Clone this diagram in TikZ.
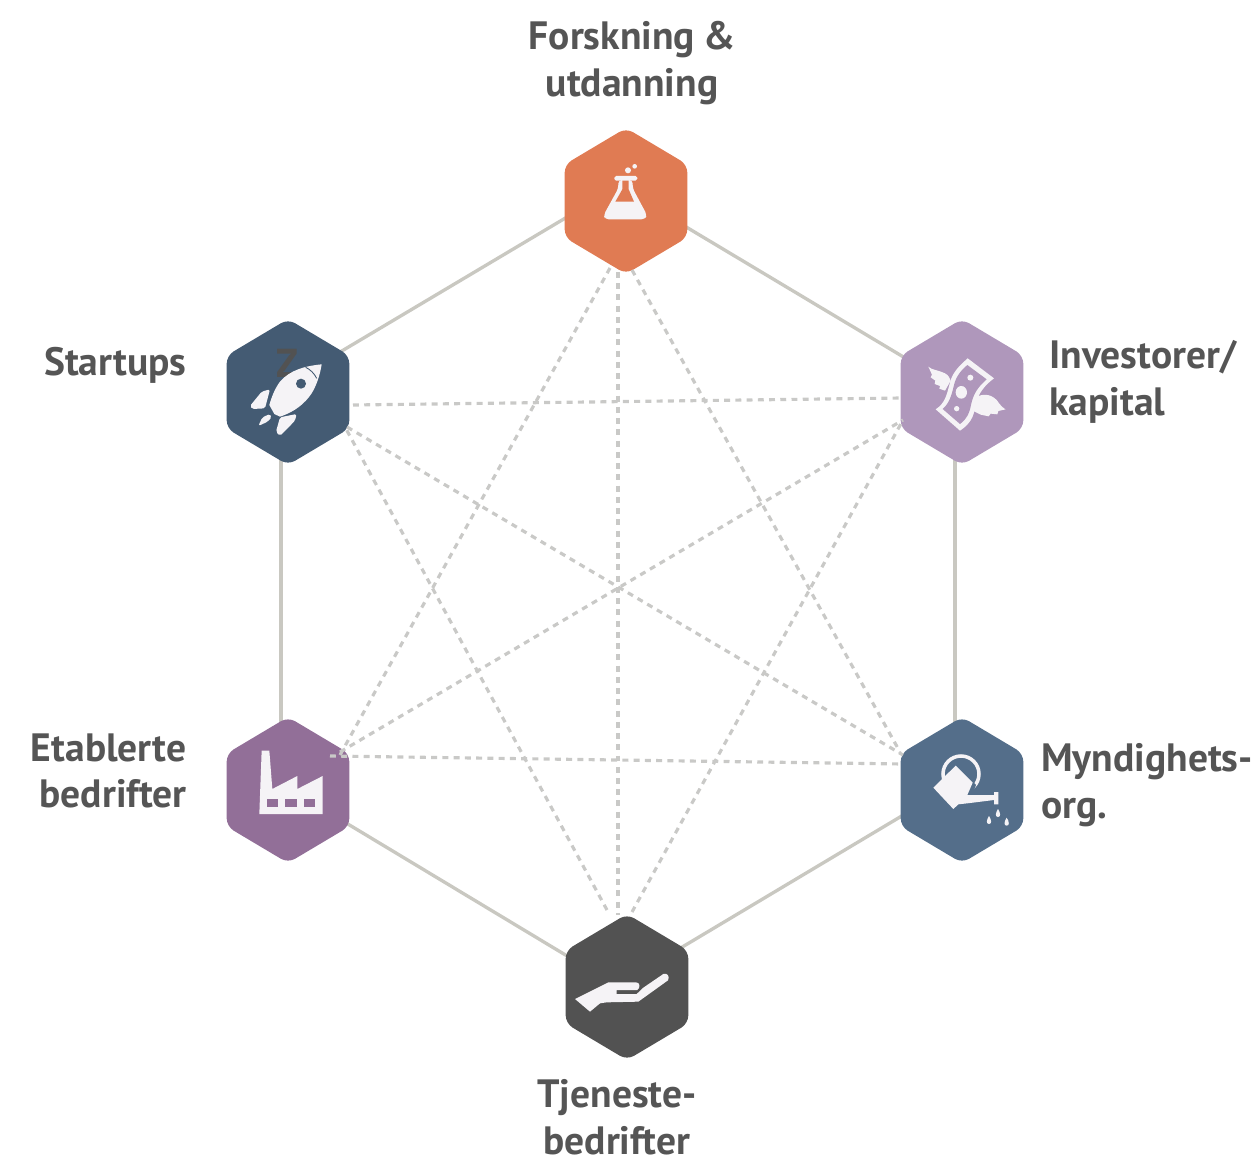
\documentclass[tikz,border=0pt]{standalone}
\usepackage{fontspec}
\setmainfont{PT Sans}
\usetikzlibrary{shapes.geometric,backgrounds}
\definecolor{orangehex}{HTML}{E07B53}
\definecolor{navyhex}{HTML}{445B73}
\definecolor{lilachex}{HTML}{AF97BB}
\definecolor{purplehex}{HTML}{926F98}
\definecolor{bluehex}{HTML}{546E8A}
\definecolor{darkhex}{HTML}{525252}
\definecolor{iconcol}{HTML}{F5F3F6}
\definecolor{linecol}{HTML}{C9C8C1}
\definecolor{dashcol}{HTML}{C9C9C7}
\definecolor{textcol}{HTML}{555555}
\tikzset{
  hexnode/.style={regular polygon,regular polygon sides=6,shape border rotate=30,
    minimum size=2.92cm,xscale=0.97,inner sep=0pt,outer sep=0pt,fill=#1,rounded corners=0.16cm},
  solidlink/.style={draw=linecol,line width=1.9pt},
  dashlink/.style={draw=dashcol,line width=1.8pt,dash pattern=on 3.4pt off 3pt},
  label/.style={text=textcol,font=\fontsize{22.5}{26.6}\selectfont\bfseries,inner sep=0pt},
  icon/.style={fill=iconcol,draw=none}
}
\begin{document}
\begin{tikzpicture}[x=0.02cm,y=-0.02cm]
\useasboundingbox (0,0) rectangle (1255,1159);

\node[hexnode=orangehex] (forskning) at (626,201) {};
\node[hexnode=navyhex] (startups) at (288,392) {};
\node[hexnode=lilachex] (investorer) at (962,392) {};
\node[hexnode=purplehex] (etablerte) at (288,790) {};
\node[hexnode=bluehex] (myndighet) at (962,790) {};
\node[hexnode=darkhex] (tjeneste) at (627,987) {};

\begin{pgfonlayer}{background}
\draw[solidlink] ([yshift=0.38cm]forskning.center) -- ([yshift=0.18cm]startups.center);
\draw[solidlink] ([yshift=0.2cm]forskning.center) -- (investorer.center);
\draw[solidlink] ([xshift=-0.14cm]startups.center) -- ([xshift=-0.14cm]etablerte.center);
\draw[solidlink] ([xshift=-0.14cm]investorer.center) -- ([xshift=-0.14cm]myndighet.center);
\draw[solidlink] ([yshift=0.04cm]etablerte.center) -- ([yshift=-0.1cm]tjeneste.center);
\draw[solidlink] ([yshift=0.2cm]myndighet.center) -- ([yshift=0.14cm]tjeneste.center);
\end{pgfonlayer}

\coordinate (s1) at (353,405);
\coordinate (s2) at (347,427);
\coordinate (s3) at (345,427);
\coordinate (i1) at (902,398);
\coordinate (i2) at (903,420);
\coordinate (i3) at (903,420);
\coordinate (e1) at (330,756);
\coordinate (e2) at (340,755);
\coordinate (e3) at (340,752);
\coordinate (m1) at (903,764);
\coordinate (m2) at (900,752);
\coordinate (m3) at (903,755);
\coordinate (f1) at (618,272);
\coordinate (f2) at (610,268);
\coordinate (f3) at (632,270);
\coordinate (t1) at (618,915);
\coordinate (t2) at (607,910);
\coordinate (t3) at (632,912);
\draw[dashlink] (s1) -- (i1);
\draw[dashlink] (e1) -- (m1);
\draw[dashlink] (f1) -- (t1);
\draw[dashlink] (f2) -- (e2);
\draw[dashlink] (f3) -- (m2);
\draw[dashlink] (t2) -- (s3);
\draw[dashlink] (t3) -- (i3);
\draw[dashlink] (s2) -- (m3);
\draw[dashlink] (e3) -- (i2);

% flask
\begin{scope}[shift={(550,120)},scale=1/3]
\fill[icon] (234,151) circle (9);
\fill[icon] (254,139) circle (7);
\fill[icon,rounded corners=1pt] (193,168) rectangle (262,182);
\fill[icon,rounded corners=2pt] (205,180) -- (205,205) -- (161,285) -- (165,298) -- (285,298) -- (291,285) -- (248,205) -- (248,180) -- cycle;
\fill[orangehex] (217,182) -- (236,182) -- (236,208) -- (252,245) -- (196,245) -- (217,208) -- cycle;
\end{scope}

% rocket
\node[text=darkhex,font=\fontsize{23}{23}\selectfont\bfseries,inner sep=0pt] (zmark) at (287,363) {Z};
\begin{scope}[shift={(215,310)},scale=1/3]
\fill[icon] (320,163) .. controls (270,168) and (225,180) .. (195,215) .. controls (180,235) and (170,260) .. (163,285) -- (178,312) -- (195,320) .. controls (240,305) and (270,280) .. (290,250) .. controls (305,225) and (315,195) .. (320,163) -- cycle;
\fill[navyhex] (258,221) circle (15);
\draw[navyhex,line width=0.5pt] (272,172) .. controls (285,178) and (298,190) .. (305,205);
\fill[icon,rounded corners=1pt] (165,238) -- (140,245) -- (105,288) -- (112,297) -- (150,295) -- cycle;
\fill[icon,rounded corners=1pt] (245,312) -- (195,322) -- (183,365) -- (195,378) -- (240,332) -- cycle;
\fill[icon,rounded corners=1pt] (165,312) -- (142,322) -- (130,348) -- (158,335) -- (170,322) -- cycle;
\end{scope}

% money
\begin{scope}[shift={(890,310)},scale=1/3]
\fill[icon] (115,170) .. controls (125,180) and (145,180) .. (165,190) .. controls (175,195) and (180,205) .. (182,212) -- (165,242) -- (148,236) -- (150,228) -- (134,222) -- (136,212) -- (122,202) -- (126,194) -- cycle;
\fill[icon] (252,265) .. controls (275,250) and (300,250) .. (320,270) .. controls (330,285) and (340,295) .. (347,298) -- (325,303) -- (322,313) -- (302,311) -- (296,319) -- (272,314) -- (248,302) -- cycle;
\fill[icon] (233,145) -- (312,205) .. controls (285,225) and (265,250) .. (258,280) .. controls (252,310) and (250,335) .. (210,362) -- (137,298) .. controls (165,280) and (170,255) .. (178,225) .. controls (185,190) and (205,170) .. (233,145) -- cycle;
\fill[lilachex] (232,165) -- (290,208) .. controls (265,230) and (250,250) .. (243,285) .. controls (238,310) and (232,325) .. (210,342) -- (158,297) .. controls (178,280) and (185,255) .. (192,225) .. controls (198,200) and (212,182) .. (232,165) -- cycle;
\fill[icon] (241,203) circle (9);
\fill[icon] (214,247) ellipse (17 and 19);
\fill[icon] (200,296) circle (8);
\end{scope}

% factory
\begin{scope}[shift={(215,710)},scale=1/3]
\fill[icon] (140,122) -- (163,122) -- (172,237) -- (247,198) -- (247,237) -- (323,198) -- (323,312) -- (133,312) -- cycle;
\fill[purplehex] (156,268) rectangle (190,292);
\fill[purplehex] (211,268) rectangle (245,292);
\fill[purplehex] (266,268) rectangle (300,292);
\end{scope}

% watering can
\begin{scope}[shift={(890,710)},scale=1/3]
\draw[iconcol,line width=2pt] (213,192) circle (54);
\fill[bluehex] (165,195) -- (197,163) -- (258,225) -- (232,290) -- cycle;
\fill[icon] (130,233) -- (197,167) -- (248,218) -- (232,255) -- (312,255) -- (312,246) -- (325,246) -- (325,283) -- (312,283) -- (312,270) -- (232,280) -- (205,283) -- (190,297) -- cycle;
\fill[icon] (297,318) .. controls (305,330) and (306,342) .. (297,342) .. controls (288,342) and (289,330) .. (297,318) -- cycle;
\fill[icon] (324,297) .. controls (332,309) and (333,321) .. (324,321) .. controls (315,321) and (316,309) .. (324,297) -- cycle;
\fill[icon] (350,323) .. controls (358,335) and (359,347) .. (350,347) .. controls (341,347) and (342,335) .. (350,323) -- cycle;
\end{scope}

% hand
\begin{scope}[shift={(550,905)},scale=1/3]
\fill[icon] (75,282) -- (175,232) -- (258,232) .. controls (270,232) and (272,248) .. (262,255) -- (200,255) -- (200,267) -- (260,267) -- (280,248) -- (340,207) .. controls (352,202) and (360,215) .. (354,226) -- (265,290) -- (170,292) -- (150,295) -- (120,320) -- cycle;
\end{scope}

\node[label,align=center] (forskningtxt) at (632,63) {Forskning\kern-0.05em\ \&\\utdanning};
\node[label,anchor=east,align=right] (startupstxt) at (187,365) {Startups};
\node[label,anchor=west,align=left] (investorertxt) at (1049,382) {Investorer/\\kapital};
\node[label,anchor=east,align=right] (etablertetxt) at (187,771) {Etablerte\\bedrifter};
\node[label,anchor=west,align=left] (myndighettxt) at (1041,785) {Myndighets-\\org.};
\node[label,align=center] (tjenestetxt) at (617,1117) {Tjeneste-\\bedrifter};
\end{tikzpicture}
\end{document}
